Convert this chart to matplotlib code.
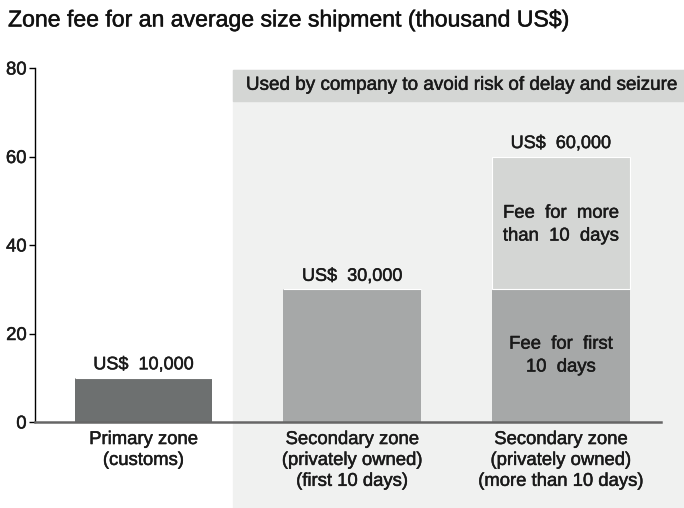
import matplotlib.pyplot as plt
import matplotlib.patheffects as pe
from matplotlib.patches import Rectangle
from matplotlib.transforms import blended_transform_factory

plt.rcParams['font.family'] = ['Liberation Sans', 'DejaVu Sans']

# --- data ---
categories = ['Primary zone\n(customs)',
              'Secondary zone\n(privately owned)\n(first 10 days)',
              'Secondary zone\n(privately owned)\n(more than 10 days)']
base_fee = [10, 30, 30]          # thousand US$
extra_fee = [0, 0, 30]           # fee for more than 10 days
total_labels = ['US$  10,000', 'US$  30,000', 'US$  60,000']
base_colors = ['#6d7070', '#a6a8a8', '#a6a8a8']
extra_color = '#d4d6d4'
y_ticks = [0, 20, 40, 60, 80]

TXT = '#1a1a1a'
FS = 13.3
# slightly heavier strokes, closer to a medium weight
thick = [pe.withStroke(linewidth=0.35, foreground=TXT)]

fig = plt.figure(figsize=(6.84, 5.08), dpi=100)
ax = fig.add_axes([35 / 684, 86 / 508, 1 - 35 / 684, (422 - 68) / 508])
ax.patch.set_visible(False)

x = list(range(len(categories)))
w = 0.66

# shaded region (used by company ...)
tr = blended_transform_factory(ax.transData, fig.transFigure)
ax.add_patch(Rectangle((0.43, 0), 3, 438 / 508, transform=tr, color='#f0f1f0',
                       clip_on=False, zorder=0))
ax.add_patch(Rectangle((0.43, 72.6), 3, 7.0, color='#d4d6d4', clip_on=False, zorder=1))
ax.text(1.52, 76.1, 'Used by company to avoid risk of delay and seizure',
        ha='center', va='center', fontsize=13.6, color=TXT, path_effects=thick)

ax.bar(x, base_fee, width=w, color=base_colors, zorder=2)
ax.bar(x, extra_fee, width=w, bottom=base_fee, color=extra_color,
       edgecolor='white', linewidth=0.8, zorder=2)

totals = [b + e for b, e in zip(base_fee, extra_fee)]
for xi, t, lab in zip(x, totals, total_labels):
    ax.text(xi, t + 1.0, lab, ha='center', va='bottom', fontsize=13,
            color=TXT, path_effects=thick)

ax.text(2, base_fee[2] + extra_fee[2] / 2 - 0.4, 'Fee  for  more\nthan  10  days',
        ha='center', va='center', fontsize=FS, color=TXT, linespacing=1.45,
        path_effects=thick)
ax.text(2, base_fee[2] / 2, 'Fee  for  first\n10  days',
        ha='center', va='center', fontsize=FS, color=TXT, linespacing=1.45,
        path_effects=thick)

# axes styling
ax.set_xlim(-0.52, 2.59)
ax.set_ylim(0, 80)
ax.plot([-0.52, 2.48], [0, 0], color='#666666', lw=1.8, clip_on=False, zorder=3)
for s in ['top', 'right', 'bottom']:
    ax.spines[s].set_visible(False)
ax.spines['left'].set_linewidth(1.0)
ax.set_yticks(y_ticks)
ax.tick_params(axis='y', length=4.5, width=1, labelsize=FS, labelcolor=TXT, pad=1.5)
for lab in ax.get_yticklabels():
    lab.set_path_effects(thick)
ax.set_xticks(x)
ax.set_xticklabels(categories, fontsize=FS, color=TXT, linespacing=1.3)
for lab in ax.get_xticklabels():
    lab.set_path_effects(thick)
ax.tick_params(axis='x', length=0, pad=6.5)

fig.text(8 / 684, 1 - 20 / 508, 'Zone fee for an average size shipment (thousand US$)',
         ha='left', va='center', fontsize=16.6, color='#111111', path_effects=thick)

fig.savefig('out.png', dpi=100)
